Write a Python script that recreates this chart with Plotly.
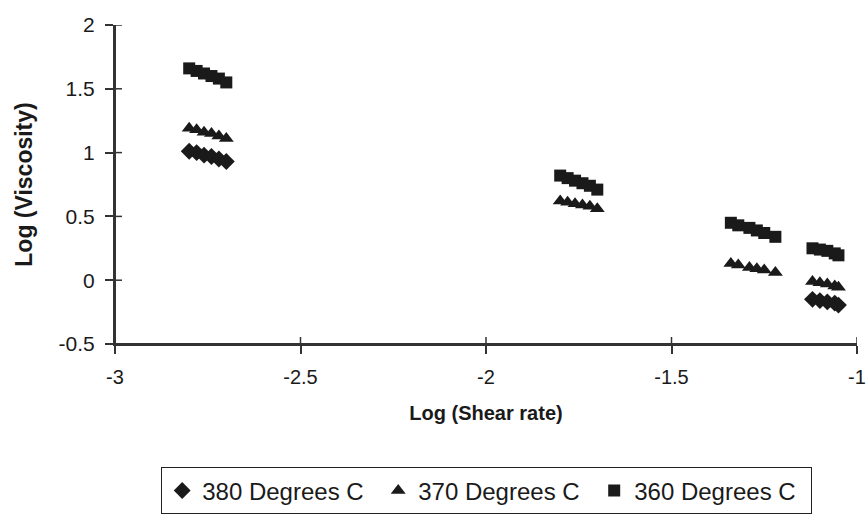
import plotly.graph_objects as go

# Log(shear rate) for each measured run (same rates used at every temperature)
shear_a = [-2.80, -2.78, -2.76, -2.74, -2.72, -2.70]
shear_b = [-1.80, -1.78, -1.76, -1.74, -1.72, -1.70]
shear_c = [-1.34, -1.32, -1.29, -1.27, -1.25, -1.22]
shear_d = [-1.12, -1.10, -1.08, -1.06, -1.05]

# Log(viscosity) readings per temperature
visc_380 = [1.01, 1.00, 0.98, 0.97, 0.95, 0.93,
            -0.15, -0.16, -0.17, -0.18, -0.195]
visc_370 = [1.19, 1.18, 1.16, 1.15, 1.13, 1.11,
            0.62, 0.61, 0.60, 0.59, 0.58, 0.56,
            0.13, 0.12, 0.10, 0.09, 0.08, 0.06,
            -0.01, -0.02, -0.03, -0.045, -0.055]
visc_360 = [1.66, 1.64, 1.62, 1.60, 1.58, 1.55,
            0.82, 0.80, 0.78, 0.76, 0.74, 0.71,
            0.45, 0.43, 0.41, 0.39, 0.37, 0.34,
            0.25, 0.24, 0.23, 0.21, 0.195]

shear_380 = shear_a + shear_d
shear_370 = shear_a + shear_b + shear_c + shear_d
shear_360 = shear_a + shear_b + shear_c + shear_d

series_names = ["380 Degrees C", "370 Degrees C", "360 Degrees C"]
x_ticks = [-3, -2.5, -2, -1.5, -1]
x_tick_text = ["-3", "-2.5", "-2", "-1.5", "-1"]
y_ticks = [-0.5, 0, 0.5, 1, 1.5, 2]
y_tick_text = ["-0.5", "0", "0.5", "1", "1.5", "2"]

INK = "#1a1a1a"
AXIS = "#333333"
FONT = "Liberation Sans, Arial, sans-serif"

W, H = 867, 515
M = dict(l=115, r=10, t=25, b=171)
plot_w = W - M["l"] - M["r"]
plot_h = H - M["t"] - M["b"]
INNER_TICK = 7  # px, inner half of the crossing tick marks

fig = go.Figure()
fig.add_trace(go.Scatter(x=shear_380, y=visc_380, mode="markers", name=series_names[0],
                         marker=dict(symbol="diamond", size=13, color=INK)))
fig.add_trace(go.Scatter(x=shear_370, y=visc_370, mode="markers", name=series_names[1],
                         marker=dict(symbol="triangle-up", size=13, color=INK)))
fig.add_trace(go.Scatter(x=shear_360, y=visc_360, mode="markers", name=series_names[2],
                         marker=dict(symbol="square", size=12, color=INK)))

# axis lines along the left and bottom edges of the plotting area
fig.add_shape(type="line", xref="paper", yref="paper", x0=0, x1=1, y0=0, y1=0,
              line=dict(color=AXIS, width=2))
fig.add_shape(type="line", xref="paper", yref="paper", x0=0, x1=0, y0=0, y1=1,
              line=dict(color=AXIS, width=2))

# inner halves of the ticks so they cross the axis lines
for xt in x_ticks:
    fig.add_shape(type="line", xref="x", yref="paper", x0=xt, x1=xt,
                  y0=0, y1=INNER_TICK / plot_h, line=dict(color=AXIS, width=1.5))
for yt in y_ticks:
    fig.add_shape(type="line", xref="paper", yref="y", x0=0, x1=INNER_TICK / plot_w,
                  y0=yt, y1=yt, line=dict(color=AXIS, width=1.5))

fig.update_layout(
    width=W, height=H,
    margin=dict(**M, autoexpand=False),
    paper_bgcolor="white", plot_bgcolor="white",
    font=dict(family=FONT, color=INK),
    showlegend=True,
    xaxis=dict(range=[-3, -1], tickvals=x_ticks, ticktext=x_tick_text,
               showgrid=False, zeroline=False, showline=True,
               linecolor=AXIS, linewidth=2,
               ticks="outside", ticklen=8, tickwidth=1.5, tickcolor=AXIS,
               tickfont=dict(size=20, family=FONT, color=INK),
               ticklabelstandoff=6,
               title=dict(text="<b>Log (Shear rate)</b>",
                          font=dict(size=20, family=FONT, color=INK), standoff=19)),
    yaxis=dict(range=[-0.5, 2], tickvals=y_ticks, ticktext=y_tick_text,
               showgrid=False, zeroline=False, showline=True,
               linecolor=AXIS, linewidth=2,
               ticks="outside", ticklen=8, tickwidth=1.5, tickcolor=AXIS,
               tickfont=dict(size=21, family=FONT, color=INK),
               ticklabelstandoff=6,
               title=dict(text="<b>Log (Viscosity)</b>",
                          font=dict(size=23, family=FONT, color=INK), standoff=20)),
    legend=dict(orientation="h", x=0.062, xanchor="left", y=-0.386, yanchor="top",
                bordercolor="#222", borderwidth=1.2, bgcolor="white",
                font=dict(size=24, family=FONT, color=INK),
                itemwidth=30, entrywidth=171, entrywidthmode="pixels",
                tracegroupgap=0),
)

fig.write_html("out.html")
